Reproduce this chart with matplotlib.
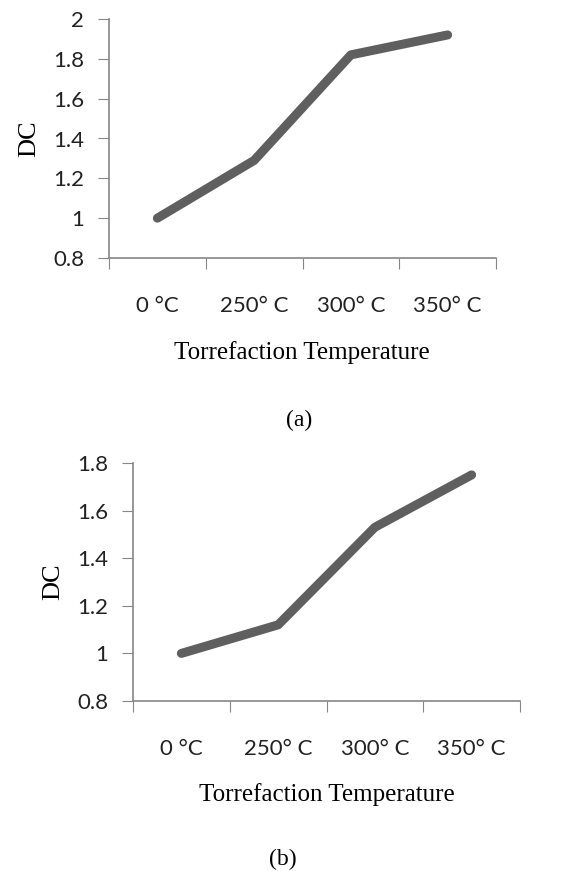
import matplotlib.pyplot as plt
import numpy as np

categories = ["0 °C", "250° C", "300° C", "350° C"]
dc_a = [1.0, 1.29, 1.82, 1.92]
dc_b = [1.0, 1.12, 1.53, 1.75]

fig = plt.figure(figsize=(5.75, 8.71), dpi=100)
W, H = 575.0, 871.0

axis_col = "#868686"
line_col = "#5f5f5f"
tick_font = "Lato"
serif = "Liberation Serif"


def panel(box, vals, ylim, yticks, label_xy, tag, tag_xy):
    left, top, right, bottom = box
    ax = fig.add_axes([left / W, 1 - bottom / H, (right - left) / W, (bottom - top) / H])
    x = np.arange(len(vals))
    ax.plot(x, vals, color=line_col, lw=6.5, solid_capstyle="round", solid_joinstyle="round")
    ax.set_xlim(-0.5, len(vals) - 0.5)
    ax.set_ylim(*ylim)
    ax.set_yticks(yticks)
    ax.set_yticklabels([("%g" % v) for v in yticks], fontfamily=tick_font, fontsize=16, color="#222222")
    # category axis: tick marks between categories, labels centred
    ax.set_xticks(np.arange(-0.5, len(vals)), minor=False)
    ax.set_xticklabels([])
    ax.set_xticks(x, minor=True)
    ax.set_xticklabels(categories, minor=True, fontfamily=tick_font, fontsize=16, color="#222222")
    ax.tick_params(axis="x", which="major", length=8, color=axis_col, direction="out")
    ax.tick_params(axis="x", which="minor", length=0, pad=27)
    ax.tick_params(axis="y", length=8, color=axis_col, pad=10)
    for s in ["top", "right"]:
        ax.spines[s].set_visible(False)
    for s in ["left", "bottom"]:
        ax.spines[s].set_color(axis_col)
        ax.spines[s].set_linewidth(1.2)
    ax.set_ylabel("DC", fontfamily=serif, fontsize=19, labelpad=9)
    fig.text(label_xy[0] / W, 1 - label_xy[1] / H, "Torrefaction Temperature",
             fontfamily=serif, fontsize=18, ha="center", va="center")
    fig.text(tag_xy[0] / W, 1 - tag_xy[1] / H, tag,
             fontfamily=serif, fontsize=17, ha="center", va="center")
    return ax


panel((109, 19, 496, 258), dc_a, (0.8, 2.0), [0.8, 1, 1.2, 1.4, 1.6, 1.8, 2],
      (302, 353), "(a)", (299, 420))
panel((133, 463, 520, 701), dc_b, (0.8, 1.8), [0.8, 1, 1.2, 1.4, 1.6, 1.8],
      (327, 795), "(b)", (283, 859))

fig.savefig("out.png", dpi=100)
